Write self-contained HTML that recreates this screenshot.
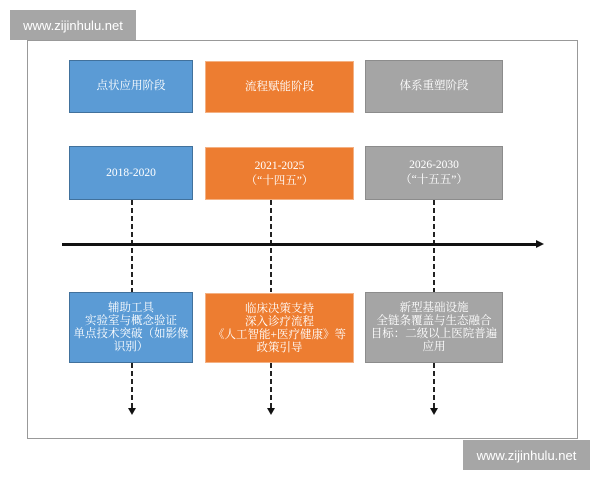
<!DOCTYPE html>
<html><head><meta charset="utf-8"><style>
body{margin:0;width:600px;height:480px;background:#fff;position:relative;overflow:hidden;font-family:"Liberation Serif","Noto Serif CJK SC",serif}
.b{position:absolute;color:#fff;display:flex;align-items:center;justify-content:center;text-align:center;font-size:11.5px;line-height:15px;box-sizing:border-box}
.bl{background:#5b9bd5;border:1px solid #41719c}
.or{background:#ed7d31;border:1px solid #f4b183}
.gr{background:#a5a5a5;border:1px solid #8c8c8c}
.wm{position:absolute;background:#a6a6a6;color:#fff;font-family:"Liberation Sans",sans-serif;font-size:13px;display:flex;align-items:center;justify-content:center}
.d{position:absolute;width:2px;background:repeating-linear-gradient(#222 0 5px,transparent 5px 8px)}
.ah{position:absolute;width:0;height:0;border-left:4px solid transparent;border-right:4px solid transparent;border-top:7px solid #111}
.t3{line-height:13px;align-items:flex-start;padding-top:9px}
</style></head><body>
<div class="wm" style="left:10px;top:10px;width:126px;height:30px">www.zijinhulu.net</div>
<div style="position:absolute;left:27px;top:40px;width:549px;height:397px;border:1px solid #999"></div>
<div class="b bl" style="left:69px;top:60px;width:124px;height:53px">点状应用阶段</div>
<div class="b or" style="left:205px;top:61px;width:149px;height:52px">流程赋能阶段</div>
<div class="b gr" style="left:365px;top:60px;width:138px;height:53px">体系重塑阶段</div>
<div class="b bl" style="left:69px;top:146px;width:124px;height:54px">2018-2020</div>
<div class="b or" style="left:205px;top:147px;width:149px;height:53px">2021-2025<br>（“十四五”）</div>
<div class="b gr" style="left:365px;top:146px;width:138px;height:54px">2026-2030<br>（“十五五”）</div>
<div class="d" style="left:131px;top:200px;height:92px"></div>
<div class="d" style="left:270px;top:200px;height:92px"></div>
<div class="d" style="left:433px;top:200px;height:92px"></div>
<div style="position:absolute;left:62px;top:243px;width:476px;height:3px;background:#111"></div>
<div style="position:absolute;left:536px;top:240px;border-top:4.5px solid transparent;border-bottom:4.5px solid transparent;border-left:8px solid #111"></div>
<div class="b bl t3" style="left:69px;top:292px;width:124px;height:71px">辅助工具<br>实验室与概念验证<br>单点技术突破（如影像<br>识别）</div>
<div class="b or t3" style="left:205px;top:293px;width:149px;height:70px">临床决策支持<br>深入诊疗流程<br>《人工智能+医疗健康》等<br>政策引导</div>
<div class="b gr t3" style="left:365px;top:292px;width:138px;height:71px">新型基础设施<br>全链条覆盖与生态融合<br>目标：二级以上医院普遍<br>应用</div>
<div class="d" style="left:131px;top:363px;height:46px"></div>
<div class="d" style="left:270px;top:363px;height:46px"></div>
<div class="d" style="left:433px;top:363px;height:46px"></div>
<div class="ah" style="left:128px;top:408px"></div>
<div class="ah" style="left:267px;top:408px"></div>
<div class="ah" style="left:430px;top:408px"></div>
<div class="wm" style="left:463px;top:440px;width:127px;height:30px">www.zijinhulu.net</div>
</body></html>
